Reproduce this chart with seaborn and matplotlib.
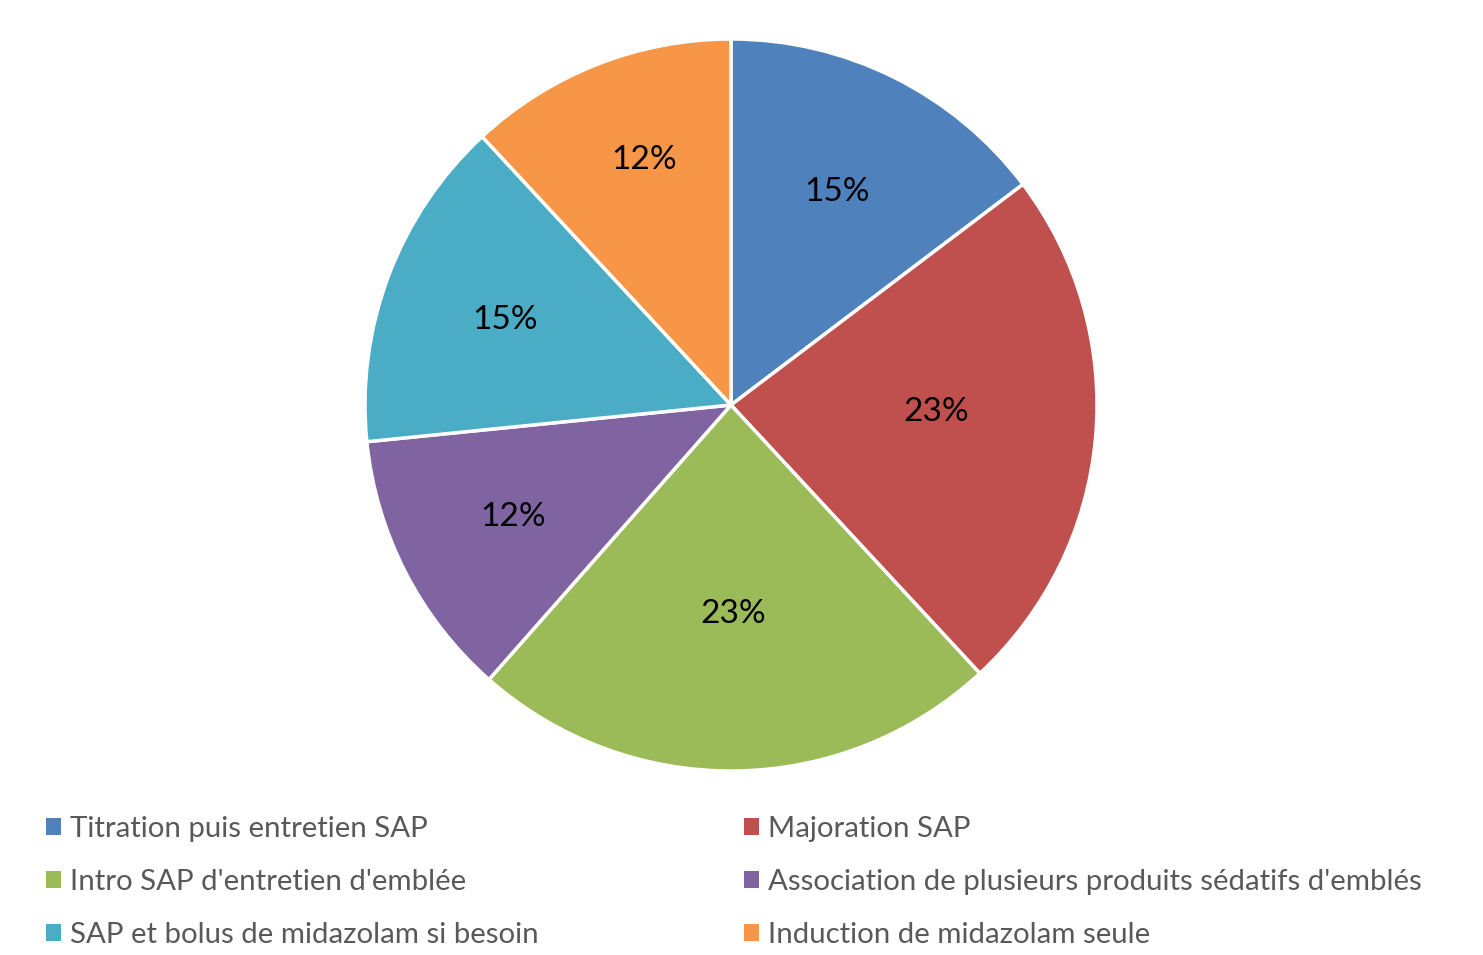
import numpy as np
import matplotlib
matplotlib.use("Agg")
import matplotlib.pyplot as plt
import seaborn as sns
from matplotlib.patches import Patch

categories = [
    "Titration puis entretien SAP",
    "Majoration SAP",
    "Intro SAP d'entretien d'emblée",
    "Association de plusieurs produits sédatifs d'emblés",
    "SAP et bolus de midazolam si besoin",
    "Induction de midazolam seule",
]
shares = [14.7, 23.4, 23.4, 11.9, 14.7, 11.9]
colors = ["#4F81BD", "#C0504D", "#9BBB59", "#8064A2", "#4BACC6", "#F79646"]

sns.set_theme(style="white")
plt.rcParams["font.family"] = ["Lato", "DejaVu Sans"]

W, H = 1483, 955
fig = plt.figure(figsize=(W / 100, H / 100), dpi=100)
cx, cy, r = 731, 405, 366
ax = fig.add_axes([(cx - r) / W, (H - cy - r) / H, 2 * r / W, 2 * r / H])

wedges, texts, autotexts = ax.pie(
    shares,
    colors=colors,
    startangle=90,
    counterclock=False,
    autopct=lambda p: f"{p:.0f}%",
    pctdistance=0.63,
    wedgeprops=dict(edgecolor="white", linewidth=2.5),
    textprops=dict(fontsize=24, color="black"),
)
# label distances from centre (Excel best-fit style placement)
label_dist = [0.65, 0.56, 0.57, 0.67, 0.66, 0.71]
label_rot = [0, 3, 0, 0, 0, -2]
for w, t, d, a in zip(wedges, autotexts, label_dist, label_rot):
    mid = np.deg2rad((w.theta1 + w.theta2) / 2 + a)
    t.set_position((d * np.cos(mid), d * np.sin(mid)))

ax.set_xlim(-1, 1)
ax.set_ylim(-1, 1)
ax.set_aspect("equal")
ax.axis("off")

order = [0, 2, 4, 1, 3, 5]
handles = [Patch(facecolor=colors[i], edgecolor="none") for i in order]
labels = [categories[i] for i in order]
leg = fig.legend(
    handles, labels, ncol=2, loc="upper left",
    bbox_to_anchor=(46 / W, 1 - 816 / H),
    frameon=False, fontsize=21.2,
    handlelength=0.5, handleheight=0.5, handletextpad=0.3,
    columnspacing=7.0, labelspacing=0.92, borderaxespad=0, borderpad=0,
)
for t in leg.get_texts():
    t.set_color("#595959")

fig.savefig("out.png", dpi=100, facecolor="white")
